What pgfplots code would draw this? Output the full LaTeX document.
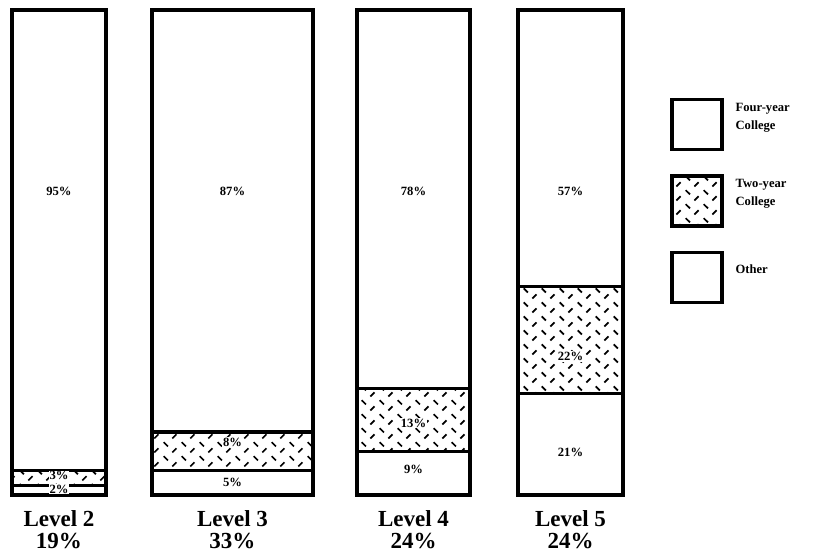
\documentclass[border=0pt]{standalone}
\usepackage{fontspec}
\setmainfont{Liberation Serif}
\usepackage{pgfplots}
\pgfplotsset{compat=1.18}
\usetikzlibrary{patterns}

% short dashes in two directions, as in the two-year segments
\pgfdeclarepatternformonly{herring}{\pgfpointorigin}{\pgfqpoint{9pt}{7pt}}{\pgfqpoint{9pt}{7pt}}{%
  \pgfsetlinewidth{0.9pt}
  \pgfpathmoveto{\pgfqpoint{0.9pt}{6.2pt}}\pgfpathlineto{\pgfqpoint{3.1pt}{4.0pt}}
  \pgfpathmoveto{\pgfqpoint{5.4pt}{0.8pt}}\pgfpathlineto{\pgfqpoint{7.6pt}{3.0pt}}
  \pgfusepath{stroke}}

\pgfplotsset{
  levelbar/.style={scale only axis, width=305.5pt, height=242.5pt,
    xmin=12, xmax=623, ymin=0, ymax=100, enlargelimits=false,
    ybar stacked, clip=false, hide axis},
  other/.style={fill=white, draw=black, line width=1.6pt},
  twoyear/.style={pattern=herring, draw=black, line width=1.6pt},
  fouryear/.style={fill=white, draw=black, line width=1.6pt},
}
\newcommand{\pct}{\bfseries\fontsize{6.3}{7}\selectfont}
\newcommand{\lvl}{\bfseries\fontsize{11.5}{10.8}\selectfont}

\begin{document}
\begin{tikzpicture}
% Level 2
\begin{axis}[levelbar, bar width=94,
  reverse legend,
  legend style={at={(1.077,0.819)}, anchor=north west, draw=none, fill=none,
    inner sep=0pt, row sep=11.5pt, column sep=4pt,
    font=\bfseries\fontsize{6.3}{8}\selectfont},
  legend cell align=left,
  legend image code/.code={\draw[#1] (0pt,-16pt) rectangle (25pt,9pt);}]
\addplot[other] coordinates {(59,2)};
\addlegendentry{Other}
\addplot[twoyear] coordinates {(59,3)};
\addlegendentry{\shortstack[l]{Two-year\\College}}
\addplot[fouryear] coordinates {(59,95)};
\addlegendentry{\shortstack[l]{Four-year\\College}}
\end{axis}
% Level 3
\begin{axis}[levelbar, bar width=161]
\addplot[other] coordinates {(232.5,5)};
\addplot[twoyear] coordinates {(232.5,8)};
\addplot[fouryear] coordinates {(232.5,87)};
\end{axis}
% Level 4
\begin{axis}[levelbar, bar width=113]
\addplot[other] coordinates {(413.5,9)};
\addplot[twoyear] coordinates {(413.5,13)};
\addplot[fouryear] coordinates {(413.5,78)};
\end{axis}
% Level 5
\begin{axis}[levelbar, bar width=105]
\addplot[other] coordinates {(570.5,21)};
\addplot[twoyear] coordinates {(570.5,22)};
\addplot[fouryear] coordinates {(570.5,57)};
\end{axis}
% texts, on top of all bars
\begin{axis}[levelbar]
\node[font=\pct] at (axis cs:59,62.5) {95\%};
\node[font=\pct, fill=white, inner sep=0.4pt] at (axis cs:59,4.0) {3\%};
\node[font=\pct, fill=white, inner sep=0.4pt] at (axis cs:59,1.2) {2\%};
\node[font=\pct] at (axis cs:232.5,62.5) {87\%};
\node[font=\pct, fill=white, inner sep=0.5pt] at (axis cs:232.5,10.9) {8\%};
\node[font=\pct] at (axis cs:232.5,2.7) {5\%};
\node[font=\pct] at (axis cs:413.5,62.5) {78\%};
\node[font=\pct, fill=white, inner sep=0.5pt] at (axis cs:413.5,14.8) {13\%};
\node[font=\pct] at (axis cs:413.5,5.2) {9\%};
\node[font=\pct] at (axis cs:570.5,62.5) {57\%};
\node[font=\pct, fill=white, inner sep=0.5pt] at (axis cs:570.5,28.5) {22\%};
\node[font=\pct] at (axis cs:570.5,8.7) {21\%};
\node[font=\lvl, align=center, anchor=north, inner sep=0pt] at (axis cs:59,-3.2) {Level 2\\19\%};
\node[font=\lvl, align=center, anchor=north, inner sep=0pt] at (axis cs:232.5,-3.2) {Level 3\\33\%};
\node[font=\lvl, align=center, anchor=north, inner sep=0pt] at (axis cs:413.5,-3.2) {Level 4\\24\%};
\node[font=\lvl, align=center, anchor=north, inner sep=0pt] at (axis cs:570.5,-3.2) {Level 5\\24\%};
\path (axis cs:0,-11.75) rectangle (axis cs:820,102.06);
\end{axis}
\end{tikzpicture}
\end{document}
